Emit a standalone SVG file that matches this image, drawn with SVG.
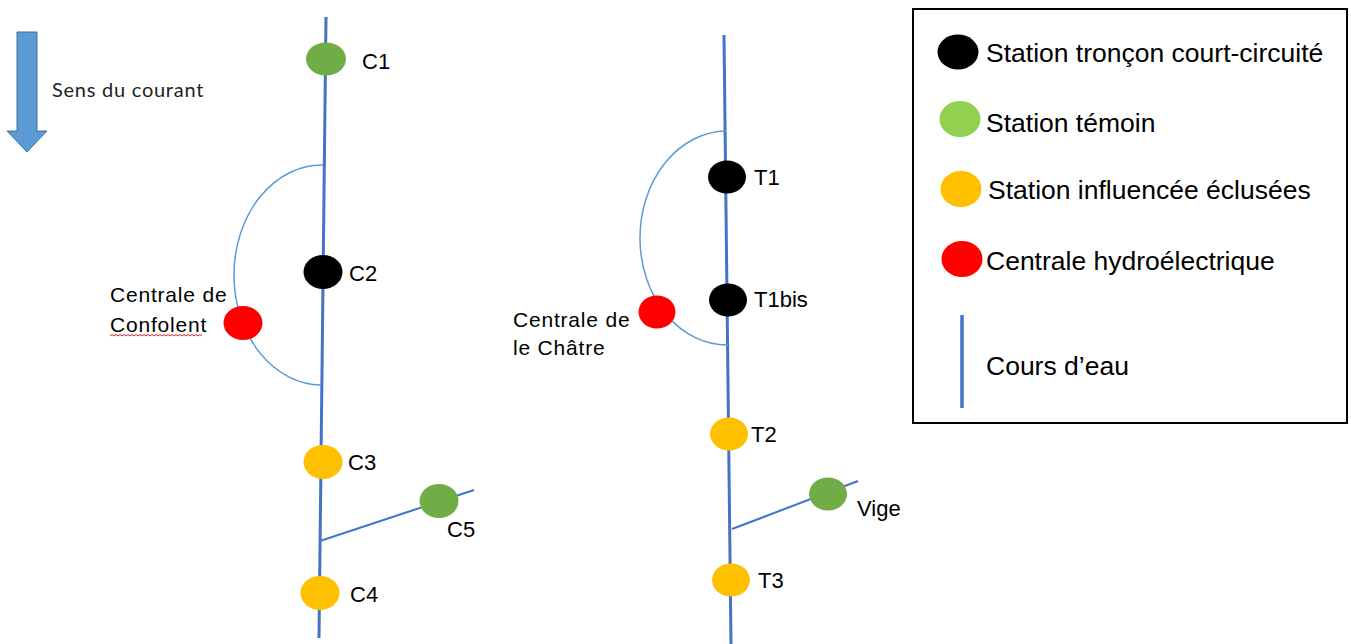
<svg xmlns="http://www.w3.org/2000/svg" width="1351" height="644" viewBox="0 0 1351 644">
<style>
.t{font-family:"Liberation Sans",Arial,sans-serif;fill:#000}
.lbl{font-size:22px}
.cen{font-size:21px;letter-spacing:0.8px}
.leg{font-size:26.5px}
.river{stroke:#4472C4;stroke-width:3;fill:none}
.trib{stroke:#4472C4;stroke-width:2;fill:none}
.arc{stroke:#5B9BD5;stroke-width:1.5;fill:none}
.g{fill:#70AD47}.o{fill:#FFC000}.r{fill:#FF0000}.b{fill:#000}.lg{fill:#92D050}
</style>
<rect width="1351" height="644" fill="#fff"/>
<g id="current-arrow">
<path d="M17 32 H37 V131 H47 L27 152 L7 131 H17 Z" fill="#5B9BD5" stroke="#41719C" stroke-width="1"/>
<text x="52" y="97" font-family="Lato,'Liberation Sans',sans-serif" font-size="20" letter-spacing="0.75" fill="#222">Sens du courant</text>
</g>
<g id="connectors">
<path class="river" d="M326 17 L319 638"/>
<path class="river" d="M724 35 L731 644"/>
<path class="arc" d="M323 165 A88 110 0 0 0 321 385"/>
<path class="arc" d="M726 131 A87 107 0 0 0 728 345"/>
<path class="trib" d="M320 541 L474 490"/>
<path class="trib" d="M732 529 L858 481"/>
</g>
<g id="C1"><ellipse class="g" cx="326" cy="59" rx="20" ry="16.5"/><text class="t lbl" x="362" y="69">C1</text></g>
<g id="C2"><ellipse class="b" cx="323" cy="272" rx="19.5" ry="17"/><text class="t lbl" x="349" y="281">C2</text></g>
<g id="centrale-confolent"><ellipse class="r" cx="243" cy="323" rx="19.5" ry="17"/>
<text class="t cen" x="110" y="302">Centrale de</text><text class="t cen" x="110" y="332">Confolent</text>
<path d="M110 336 l2-1.5 2 1.5 2-1.5 2 1.5 2-1.5 2 1.5 2-1.5 2 1.5 2-1.5 2 1.5 2-1.5 2 1.5 2-1.5 2 1.5 2-1.5 2 1.5 2-1.5 2 1.5 2-1.5 2 1.5 2-1.5 2 1.5 2-1.5 2 1.5 2-1.5 2 1.5 2-1.5 2 1.5 2-1.5 2 1.5 2-1.5 2 1.5 2-1.5 2 1.5 2-1.5 2 1.5 2-1.5 2 1.5 2-1.5 2 1.5 2-1.5 2 1.5 2-1.5 2 1.5 2-1.5 2 1.5" fill="none" stroke="#E02020" stroke-width="1"/></g>
<g id="C3"><ellipse class="o" cx="323" cy="462" rx="19.5" ry="17"/><text class="t lbl" x="348" y="470">C3</text></g>
<g id="C5"><ellipse class="g" cx="439" cy="501" rx="19.5" ry="17"/><text class="t lbl" x="447" y="537">C5</text></g>
<g id="C4"><ellipse class="o" cx="320" cy="593" rx="19.5" ry="17"/><text class="t lbl" x="350" y="602">C4</text></g>
<g id="T1"><ellipse class="b" cx="727" cy="177" rx="19" ry="16.5"/><text class="t lbl" x="754" y="185">T1</text></g>
<g id="T1bis"><ellipse class="b" cx="728" cy="300" rx="19" ry="16.5"/><text class="t lbl" x="754" y="307">T1bis</text></g>
<g id="centrale-chatre"><ellipse class="r" cx="657" cy="312" rx="18.5" ry="16.5"/>
<text class="t cen" x="513" y="327">Centrale de</text><text class="t cen" x="513" y="355">le Châtre</text></g>
<g id="T2"><ellipse class="o" cx="729" cy="434" rx="19" ry="16.5"/><text class="t lbl" x="751" y="442">T2</text></g>
<g id="Vige"><ellipse class="g" cx="828" cy="494" rx="19" ry="16.5"/><text class="t lbl" x="857" y="516">Vige</text></g>
<g id="T3"><ellipse class="o" cx="731" cy="580" rx="19" ry="16.5"/><text class="t lbl" x="758" y="588">T3</text></g>
<g id="legend">
<rect x="913" y="9" width="434" height="414" fill="#fff" stroke="#000" stroke-width="2"/>
<ellipse class="b" cx="958" cy="52" rx="20.5" ry="17.5"/><text class="t leg" x="986" y="62">Station tronçon court-circuité</text>
<ellipse class="lg" cx="960" cy="119" rx="20.5" ry="18"/><text class="t leg" x="986" y="132">Station témoin</text>
<ellipse class="o" cx="961" cy="189" rx="20.5" ry="18"/><text class="t leg" x="988" y="199">Station influencée éclusées</text>
<ellipse class="r" cx="962" cy="259" rx="20.5" ry="18"/><text class="t leg" x="986" y="270">Centrale hydroélectrique</text>
<line x1="962" y1="315" x2="962" y2="408" stroke="#4472C4" stroke-width="3.5"/>
<text class="t leg" x="986" y="375">Cours d’eau</text>
</g>
</svg>
